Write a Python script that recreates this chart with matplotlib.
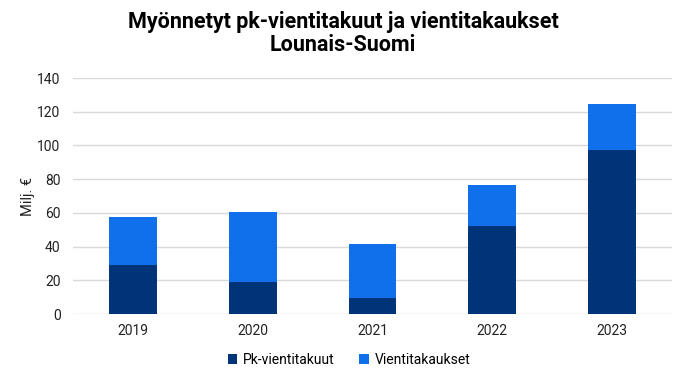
import matplotlib
matplotlib.use("Agg")
import matplotlib.pyplot as plt
import numpy as np

plt.rcParams['font.family'] = ['Roboto', 'DejaVu Sans']

years = ["2019", "2020", "2021", "2022", "2023"]
pk_vientitakuut = [29.0, 19.0, 9.6, 52.5, 97.1]
vientitakaukset = [28.4, 41.5, 31.8, 24.1, 27.2]
yticks = [0, 20, 40, 60, 80, 100, 120, 140]

dark = "#003478"
light = "#1070EC"

fig = plt.figure(figsize=(6.98, 3.88), dpi=100)
ax = fig.add_axes([73/698, 1 - 314/388, (672-73)/698, (314-78)/388])

x = np.arange(len(years))
ax.bar(x, pk_vientitakuut, width=0.4, color=dark, label="Pk-vientitakuut", zorder=3)
ax.bar(x, vientitakaukset, width=0.4, bottom=pk_vientitakuut, color=light,
       label="Vientitakaukset", zorder=3)

ax.set_xlim(-0.5, len(years) - 0.5)
ax.set_ylim(0, 140)
ax.set_yticks(yticks)
ax.set_xticks(x)
ax.set_xticklabels(years)
ax.grid(axis='y', color='#d9d9d9', linewidth=1, zorder=0)
for s in ax.spines.values():
    s.set_visible(False)
ax.tick_params(axis='both', length=0, labelsize=10, colors='#222222')
ax.tick_params(axis='y', pad=9)
ax.tick_params(axis='x', pad=7)
ax.set_ylabel("Milj. €", fontsize=10.5, color='#222222', labelpad=1.5)

fig.text(343/698, 1 - 28/388, "Myönnetyt pk-vientitakuut ja vientitakaukset",
         ha='center', va='baseline', fontsize=15.5, fontweight='bold', color='#000000')
fig.text(343/698, 1 - 51/388, "Lounais-Suomi",
         ha='center', va='baseline', fontsize=15.5, fontweight='bold', color='#000000')

leg = fig.legend(loc='center', bbox_to_anchor=(0.5, 1 - 360/388), ncol=2, frameon=False,
                 fontsize=10, handlelength=0.7, handleheight=0.7, handletextpad=0.4,
                 columnspacing=1.8)

fig.savefig("out.png", dpi=100)
